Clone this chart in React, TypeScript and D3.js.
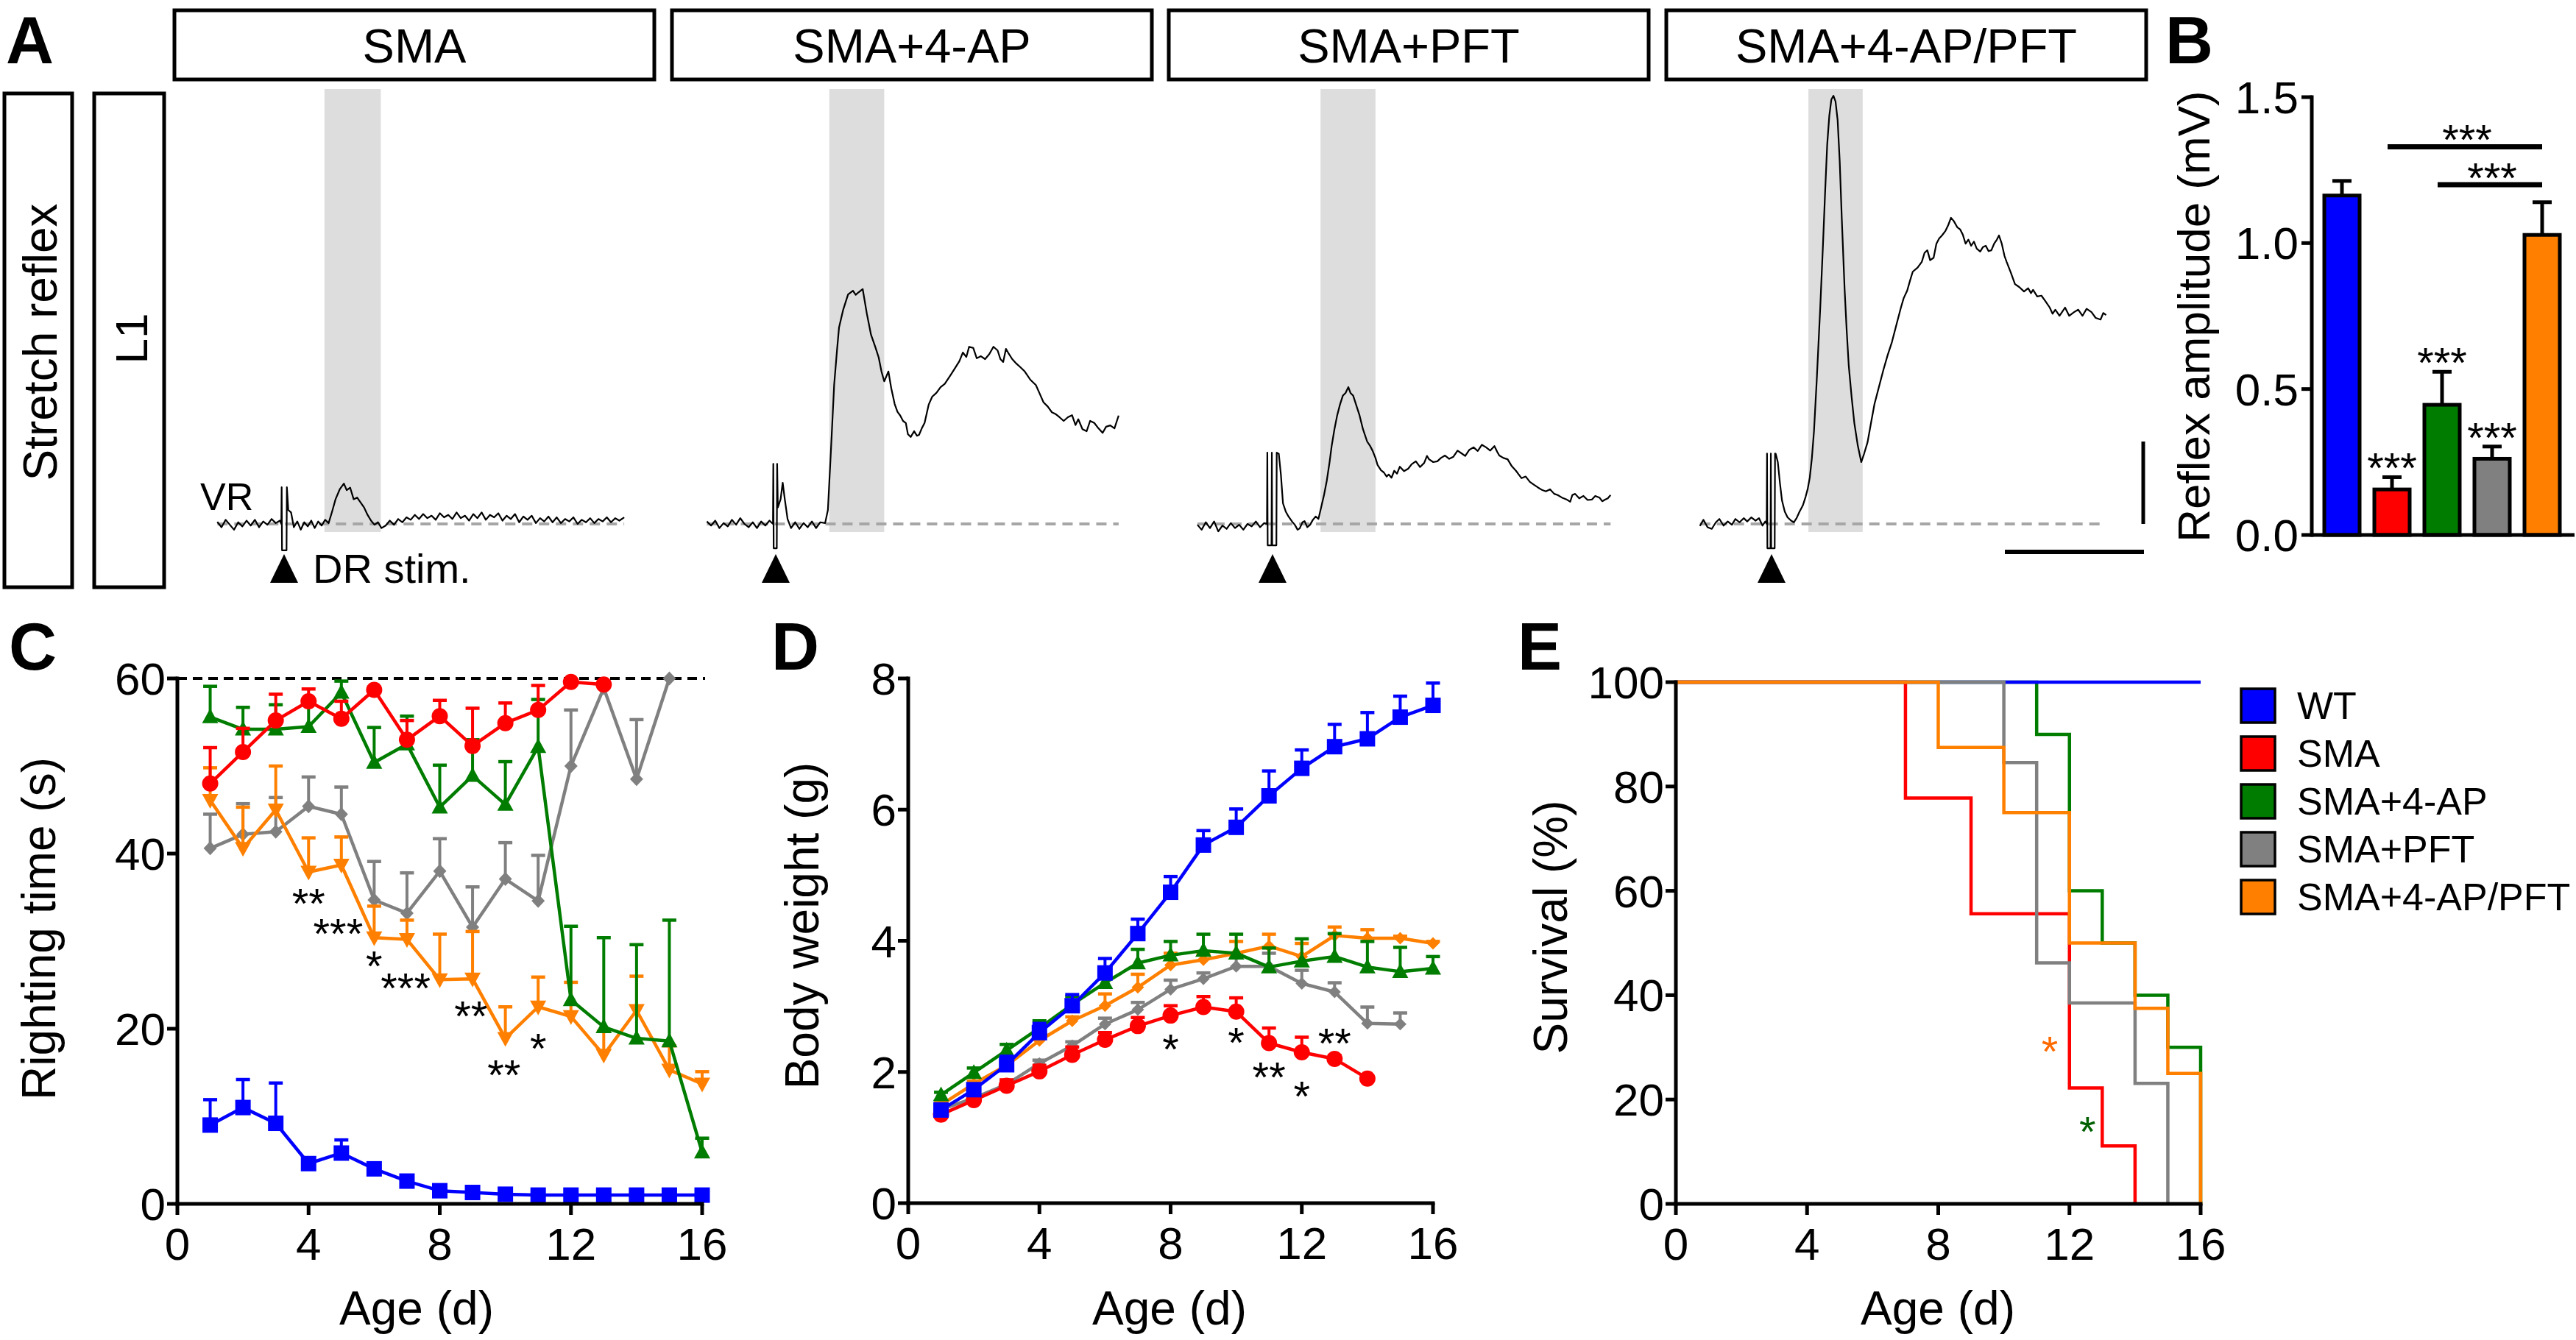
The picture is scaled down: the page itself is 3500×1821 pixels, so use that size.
import React from 'react';
import * as d3 from 'd3';

const FONT = "'Liberation Sans', Arial, Helvetica, sans-serif";

// ---------------- shared categories ----------------
const groups = ['WT', 'SMA', 'SMA+4-AP', 'SMA+PFT', 'SMA+4-AP/PFT'];
const groupColors: Record<string, string> = {
  WT: '#0000ff',
  SMA: '#ff0000',
  'SMA+4-AP': '#007d00',
  'SMA+PFT': '#808080',
  'SMA+4-AP/PFT': '#ff8000',
};

// ---------------- Panel A: example VR traces ([ms from stim, µV]) ----------------
const traceGroups = ['SMA', 'SMA+4-AP', 'SMA+PFT', 'SMA+4-AP/PFT'];
const traceSMA: [number, number][] = [
  [-9.6, 5], [-9, -8], [-8.4, 10], [-7.8, -2], [-7.2, -14], [-6.6, 4], [-6, -6], [-5.4, 8], [-4.8, -4], [-4.2, 10],
  [-3.6, -8], [-3, 6], [-2.4, -2], [-1.8, 12], [-1.2, 2], [-0.6, 8], [-0.4, 0], [-0.35, 89], [-0.3, -64], [0.35, -64],
  [0.4, 89], [0.6, 34], [1.0, 28], [1.4, -8], [1.9, 6], [2.4, -14], [2.9, 4], [3.4, -6], [3.9, 8], [4.4, -10],
  [4.9, 6], [5.4, -4], [5.9, 10], [6.4, 2], [6.9, 30], [7.4, 60], [8.0, 84], [8.6, 98], [9.0, 82], [9.5, 88],
  [10.0, 60], [10.5, 64], [11.0, 52], [11.5, 40], [12.0, 22], [12.5, 8], [13.0, -2], [13.5, 4], [14.0, -10], [14.6, -4],
  [15.2, 8], [15.8, -2], [16.4, 12], [17.0, 4], [17.6, 16], [18.2, 10], [18.8, 22], [19.4, 12], [20.0, 24], [20.6, 14],
  [21.2, 20], [21.8, 10], [22.4, 26], [23.0, 16], [23.6, 22], [24.2, 12], [24.8, 28], [25.4, 14], [26.0, 20], [26.6, 8],
  [27.2, 24], [27.8, 14], [28.4, 28], [29.0, 10], [29.6, 22], [30.2, 16], [30.8, 26], [31.4, 8], [32.0, 20], [32.6, 12],
  [33.2, 24], [33.8, 4], [34.4, 18], [35.0, 10], [35.6, 20], [36.2, 2], [36.8, 14], [37.4, 6], [38.0, 18], [38.6, 4],
  [39.2, 16], [39.8, 2], [40.4, 12], [41.0, 6], [41.6, 16], [42.2, 0], [42.8, 10], [43.4, 4], [44.0, 14], [44.6, 2],
  [45.2, 12], [45.8, 6], [46.4, 16], [47.0, 4], [47.6, 14], [48.2, 8], [48.9, 16],
];
const traceAP: [number, number][] = [
  [-9.9, 6], [-9.3, -4], [-8.7, 8], [-8.1, -10], [-7.5, 2], [-6.9, -6], [-6.3, 10], [-5.7, -2], [-5.1, 14], [-4.5, 0],
  [-3.9, -8], [-3.3, 4], [-2.7, -10], [-2.1, 6], [-1.5, -4], [-0.9, 8], [-0.4, 0], [-0.35, 146], [-0.3, -59], [0.15, -59],
  [0.2, 146], [0.3, 40], [0.7, 60], [1.0, 100], [1.3, 60], [1.7, 12], [2.2, -10], [2.8, 4], [3.4, -12], [4.0, 2],
  [4.6, -8], [5.2, 6], [5.8, -10], [6.4, 4], [7.1, 2], [7.5, 34], [8.0, 200], [8.4, 338], [8.8, 420], [9.1, 477],
  [9.7, 520], [10.4, 557], [11.1, 566], [11.5, 556], [11.9, 562], [12.5, 570], [13.1, 510], [13.7, 459], [14.3, 430], [14.8, 404],
  [15.2, 370], [15.6, 346], [16.2, 370], [16.6, 330], [17.1, 291], [17.5, 272], [17.9, 263], [18.3, 250], [18.7, 245], [19.0, 218],
  [19.4, 211], [19.9, 225], [20.3, 214], [20.6, 216], [21.0, 232], [21.4, 245], [22.0, 290], [22.5, 309], [23.1, 318], [23.7, 332],
  [24.3, 340], [24.9, 355], [25.4, 368], [26.0, 384], [26.4, 395], [26.9, 416], [27.4, 405], [27.8, 430], [28.4, 427], [28.9, 402],
  [29.5, 407], [30.1, 400], [30.7, 412], [31.3, 430], [31.9, 421], [32.3, 400], [32.7, 393], [33.1, 425], [33.4, 416], [34.0, 400],
  [34.6, 389], [35.2, 380], [35.8, 370], [36.6, 350], [37.4, 337], [37.9, 318], [38.5, 295], [39.1, 285], [39.7, 271], [40.3, 266],
  [40.8, 259], [41.4, 250], [42.0, 259], [42.6, 264], [43.1, 240], [43.5, 254], [44.1, 230], [44.7, 225], [45.2, 250], [45.8, 245],
  [46.4, 232], [47.0, 221], [47.5, 236], [48.1, 239], [48.7, 232], [49.3, 263],
];
const tracePFT: [number, number][] = [
  [-10.8, -2], [-10.2, -14], [-9.6, 4], [-9.0, -10], [-8.4, 6], [-7.8, -18], [-7.2, -4], [-6.6, -12], [-6.0, 2], [-5.4, -10],
  [-4.8, -2], [-4.2, -14], [-3.6, 0], [-3.0, -6], [-2.4, 6], [-1.8, -8], [-1.2, 2], [-0.8, 0], [-0.75, 173], [-0.7, -52],
  [-0.15, -52], [-0.1, 173], [-0.05, -52], [0.55, -52], [0.6, 173], [0.9, 170], [1.2, 120], [1.5, 50], [1.9, 30], [2.3, 18],
  [2.8, 6], [3.2, -2], [3.6, -14], [3.9, -11], [4.3, 4], [4.6, 7], [5.0, -8], [5.4, -2], [5.8, 10], [6.2, 18],
  [6.6, 12], [7.0, 41], [7.4, 70], [7.8, 105], [8.2, 150], [8.5, 189], [8.9, 230], [9.3, 264], [9.7, 290], [10.1, 311],
  [10.5, 318], [10.9, 332], [11.2, 318], [11.6, 311], [12.0, 290], [12.5, 264], [13.0, 230], [13.6, 200], [14.0, 190], [14.4, 177],
  [14.8, 160], [15.1, 143], [15.6, 130], [16.0, 125], [16.4, 115], [16.7, 120], [17.1, 112], [17.5, 129], [17.9, 122], [18.3, 139],
  [18.9, 128], [19.5, 134], [20.0, 145], [20.6, 152], [21.2, 138], [21.8, 148], [22.2, 165], [22.5, 157], [23.1, 150], [23.7, 152],
  [24.2, 160], [24.8, 166], [25.4, 158], [26.0, 163], [26.6, 178], [27.2, 171], [27.7, 165], [28.3, 180], [28.9, 186], [29.5, 177],
  [30.1, 192], [30.7, 186], [31.3, 178], [31.9, 189], [32.3, 175], [32.6, 166], [33.2, 160], [33.8, 157], [34.4, 140], [35.0, 129],
  [35.4, 120], [35.8, 111], [36.4, 115], [37.0, 102], [37.6, 95], [38.2, 88], [38.8, 82], [39.3, 79], [39.9, 84], [40.5, 73],
  [41.0, 70], [41.6, 64], [42.2, 60], [42.8, 54], [43.1, 70], [43.5, 73], [44.1, 62], [44.7, 68], [45.3, 58], [45.9, 59],
  [46.4, 68], [47.0, 64], [47.4, 55], [47.8, 59], [48.2, 62], [48.6, 70],
];
const traceCombo: [number, number][] = [
  [-10.3, -5], [-9.8, 10], [-9.2, -8], [-8.6, -12], [-8.0, 4], [-7.5, 12], [-6.9, -4], [-6.3, 6], [-5.7, -2], [-5.2, 12],
  [-4.6, 4], [-4.0, 14], [-3.5, 6], [-2.9, 16], [-2.3, 8], [-1.8, 14], [-1.3, -4], [-0.9, 6], [-0.7, 0], [-0.65, 171],
  [-0.6, -59], [-0.15, -59], [-0.1, 171], [-0.05, -59], [0.45, -59], [0.5, 171], [0.6, 170], [0.9, 150], [1.2, 100], [1.5, 57],
  [1.9, 30], [2.3, 16], [2.8, 8], [3.2, 4], [3.6, 14], [4.0, 29], [4.5, 45], [4.9, 66], [5.2, 85], [5.5, 113],
  [5.8, 160], [6.1, 225], [6.5, 350], [7.0, 525], [7.4, 680], [7.7, 805], [8.0, 920], [8.3, 990], [8.6, 1030], [8.9, 1039],
  [9.2, 1025], [9.5, 980], [9.8, 880], [10.1, 740], [10.5, 571], [10.8, 470], [11.1, 384], [11.5, 310], [11.9, 245], [12.4, 190],
  [12.9, 150], [13.3, 170], [13.8, 198], [14.3, 245], [14.8, 291], [15.4, 330], [16.1, 375], [16.7, 410], [17.3, 441], [17.9, 480],
  [18.6, 525], [19.0, 548], [19.5, 566], [19.9, 590], [20.3, 612], [21.0, 622], [21.6, 636], [22.0, 658], [22.4, 664], [22.8, 640],
  [23.3, 646], [23.7, 680], [24.1, 693], [24.5, 700], [25.0, 711], [25.4, 725], [25.8, 743], [26.2, 735], [26.7, 720], [27.1, 715],
  [27.5, 702], [27.9, 680], [28.3, 690], [28.7, 675], [29.1, 685], [29.5, 668], [30.0, 661], [30.4, 672], [30.8, 675], [31.2, 662],
  [31.6, 664], [32.0, 680], [32.4, 690], [32.7, 700], [33.1, 680], [33.5, 650], [33.8, 636], [34.4, 610], [35.0, 582], [35.6, 575],
  [36.3, 564], [36.9, 572], [37.3, 560], [37.6, 568], [38.2, 552], [38.8, 554], [39.4, 540], [40.0, 525], [40.4, 510], [40.8, 520],
  [41.4, 505], [41.8, 515], [42.2, 525], [42.8, 505], [43.5, 514], [44.1, 520], [44.7, 505], [45.3, 522], [46.0, 514], [46.6, 500],
  [47.3, 496], [47.7, 512], [48.1, 507],
];
const traces = [traceSMA, traceAP, tracePFT, traceCombo];
const reflexWindows: [number, number][] = [[5.8, 13.9], [7.7, 15.6], [6.9, 14.8], [5.3, 13.1]];
const scaleBarMs = 20;
const scaleBarUV = 200;

// ---------------- Panel B: reflex amplitude (mV) ----------------
const reflexMean = [1.163, 0.156, 0.446, 0.261, 1.028];
const reflexSem = [0.05, 0.042, 0.113, 0.042, 0.112];
const reflexStars = ['', '***', '***', '***', ''];
const reflexTicks = [0, 0.5, 1.0, 1.5];
const reflexSig: [string, string, number, string][] = [
  ['SMA', 'SMA+4-AP/PFT', 1.33, '***'],
  ['SMA+4-AP', 'SMA+4-AP/PFT', 1.2, '***'],
];

// ---------------- Panel C: righting time (s) ----------------
const days = [1, 2, 3, 4, 5, 6, 7, 8, 9, 10, 11, 12, 13, 14, 15, 16];
const rightWT = [9.0, 11.0, 9.2, 4.6, 5.8, 4.0, 2.6, 1.5, 1.3, 1.1, 1.0, 1.0, 1.0, 1.0, 1.0, 1.0];
const rightWTErr = [2.9, 3.2, 4.6, 0.6, 1.5, 0.6, 0.5, 0.3, 0.3, 0.2, 0.2, 0.2, 0.2, 0.2, 0.2, 0.2];
const rightSMA = [48.0, 51.6, 55.2, 57.4, 55.4, 58.7, 53.0, 55.7, 52.3, 54.9, 56.4, 59.6, 59.3];
const rightSMAErr = [4.1, 2.7, 3.0, 1.4, 2.0, 0.3, 2.2, 1.8, 4.3, 2.3, 2.8, 0.2, 0.2];
const rightAP = [55.6, 54.2, 54.2, 54.5, 58.4, 50.4, 52.5, 45.3, 48.9, 45.6, 52.2, 23.3, 20.2, 18.9, 18.6, 5.9];
const rightAPErr = [3.5, 2.5, 2.8, 2.9, 1.3, 4.0, 3.2, 4.8, 4.1, 4.9, 5.4, 8.4, 10.2, 10.7, 13.8, 1.6];
const rightPFT = [40.6, 42.2, 42.5, 45.4, 44.5, 34.7, 33.2, 38.0, 31.6, 37.1, 34.6, 50.0, 58.9, 48.5, 60.0];
const rightPFTErr = [3.9, 3.5, 3.9, 3.35, 3.1, 4.4, 4.6, 3.7, 4.6, 4.15, 5.2, 6.4, 0, 6.8, 0];
const rightCombo = [46.1, 40.6, 45.0, 37.9, 38.7, 30.4, 30.2, 25.6, 25.7, 18.9, 22.5, 21.4, 17.0, 22.1, 15.3, 13.7];
const rightComboErr = [3.7, 4.7, 5.0, 3.9, 3.2, 3.6, 2.2, 5.2, 5.4, 3.6, 3.4, 3.9, 2.7, 3.9, 2.75, 1.4];
const rightStars: [number, number, string][] = [
  [4.0, 35.4, '**'], [4.9, 31.9, '***'], [6.0, 28.2, '*'], [6.96, 25.7, '***'],
  [8.95, 22.5, '**'], [9.96, 15.8, '**'], [11.0, 18.8, '*'],
];
const rightTicks = [0, 20, 40, 60];
const rightCutoff = 60;

// ---------------- Panel D: body weight (g) ----------------
const weightWT = [1.42, 1.73, 2.11, 2.60, 3.01, 3.51, 4.11, 4.74, 5.46, 5.73, 6.21, 6.63, 6.96, 7.08, 7.41, 7.59];
const weightWTErr = [0.05, 0.08, 0.13, 0.14, 0.17, 0.22, 0.22, 0.24, 0.22, 0.28, 0.38, 0.28, 0.34, 0.40, 0.32, 0.34];
const weightSMA = [1.35, 1.57, 1.79, 2.01, 2.26, 2.49, 2.70, 2.86, 2.99, 2.92, 2.44, 2.30, 2.20, 1.90];
const weightSMAErr = [0.04, 0.05, 0.09, 0.09, 0.12, 0.11, 0.13, 0.15, 0.16, 0.21, 0.23, 0.23, 0.05, 0.03];
const weightAP = [1.65, 1.99, 2.33, 2.67, 3.03, 3.36, 3.66, 3.78, 3.85, 3.81, 3.60, 3.69, 3.76, 3.60, 3.53, 3.58];
const weightAPErr = [0.04, 0.07, 0.09, 0.11, 0.12, 0.12, 0.21, 0.21, 0.25, 0.29, 0.29, 0.34, 0.35, 0.39, 0.37, 0.18];
const weightPFT = [1.43, 1.60, 1.81, 2.13, 2.40, 2.73, 2.95, 3.26, 3.42, 3.61, 3.61, 3.35, 3.22, 2.74, 2.73];
const weightPFTErr = [0.03, 0.04, 0.05, 0.05, 0.06, 0.09, 0.11, 0.14, 0.09, 0.18, 0.20, 0.2, 0.14, 0.25, 0.17];
const weightCombo = [1.50, 1.82, 2.10, 2.48, 2.78, 3.01, 3.29, 3.63, 3.71, 3.81, 3.92, 3.76, 4.08, 4.04, 4.04, 3.96];
const weightComboErr = [0.03, 0.04, 0.05, 0.05, 0.06, 0.18, 0.20, 0.18, 0.1, 0.18, 0.18, 0.2, 0.13, 0.13, 0.03, 0.03];
const weightStars: [number, number, string][] = [
  [8.0, 2.49, '*'], [10.0, 2.59, '*'], [11.0, 2.06, '**'], [12.0, 1.77, '*'], [13.0, 2.58, '**'],
];
const weightTicks = [0, 2, 4, 6, 8];

// ---------------- Panel E: survival (%) ----------------
const survWTDays = [0, 16];
const survWT = [100, 100];
const survSMADays = [0, 7, 9, 12, 13, 14];
const survSMA = [100, 77.8, 55.6, 22.2, 11.1, 0];
const survAPDays = [0, 11, 12, 13, 14, 15, 16];
const survAP = [100, 90, 60, 50, 40, 30, 0];
const survPFTDays = [0, 10, 11, 12, 14, 15];
const survPFT = [100, 84.6, 46.2, 38.5, 23.1, 0];
const survComboDays = [0, 8, 10, 12, 14, 15, 16];
const survCombo = [100, 87.5, 75, 50, 37.5, 25, 0];
const survStars: [number, number, string, string][] = [
  [11.4, 31, '*', '#ff6a00'],
  [12.55, 15.6, '*', '#006000'],
];
const survTicks = [0, 20, 40, 60, 80, 100];
const ageTicks = [0, 4, 8, 12, 16];

// ---------------- helpers ----------------
type Shape = 'square' | 'circle' | 'triUp' | 'triDown' | 'diamond' | 'smallDiamond';
const TICK_FS = 62;
const STAR_FS = 58;
const STAR_DY = 33; // baseline offset below the asterisk's visual centre

function Marker({ shape, x, y, color }: { shape: Shape; x: number; y: number; color: string }) {
  switch (shape) {
    case 'square':
      return <rect x={x - 10.5} y={y - 10.5} width={21} height={21} fill={color} />;
    case 'circle':
      return <circle cx={x} cy={y} r={11} fill={color} />;
    case 'triUp':
      return <path d={`M${x},${y - 11.5} L${x + 11},${y + 8.5} L${x - 11},${y + 8.5} Z`} fill={color} />;
    case 'triDown':
      return <path d={`M${x},${y + 11.5} L${x + 11},${y - 8.5} L${x - 11},${y - 8.5} Z`} fill={color} />;
    case 'diamond':
      return <path d={`M${x},${y - 9.5} L${x + 9},${y} L${x},${y + 9.5} L${x - 9},${y} Z`} fill={color} />;
    default:
      return <path d={`M${x},${y - 8.5} L${x + 8.5},${y} L${x},${y + 8.5} L${x - 8.5},${y} Z`} fill={color} />;
  }
}

interface Series { group: string; vals: number[]; err: number[]; shape: Shape }

function LinePanel({ x, y, series }: { x: d3.ScaleLinear<number, number>; y: d3.ScaleLinear<number, number>; series: Series[] }) {
  return (
    <g>
      {series.map((s) => {
        const color = groupColors[s.group];
        const pts: [number, number][] = s.vals.map((v, i) => [days[i], v]);
        const line = d3.line<[number, number]>().x((d) => x(d[0])).y((d) => y(d[1]));
        return (
          <g key={s.group}>
            {pts.map(([d, v], i) =>
              s.err[i] > 0.001 ? (
                <g key={'e' + i}>
                  <line x1={x(d)} x2={x(d)} y1={y(v)} y2={y(v + s.err[i])} stroke={color} strokeWidth={4} />
                  <line x1={x(d) - 9.5} x2={x(d) + 9.5} y1={y(v + s.err[i])} y2={y(v + s.err[i])} stroke={color} strokeWidth={4.5} />
                </g>
              ) : null
            )}
            <path d={line(pts) || ''} fill="none" stroke={color} strokeWidth={4.5} strokeLinejoin="round" />
            {pts.map(([d, v], i) => (
              <Marker key={'m' + i} shape={s.shape} x={x(d)} y={y(v)} color={color} />
            ))}
          </g>
        );
      })}
    </g>
  );
}

// All significance stars of one panel go in one text element (they sit close together, as in the original)
function StarGroup({ items, fill }: { items: { x: number; y: number; s: string; c?: string }[]; fill?: string }) {
  return (
    <text fontSize={STAR_FS} textAnchor="middle" fontFamily={FONT} fill={fill || '#000'}>
      {items.map((it, i) => (
        <tspan key={i} x={it.x} y={it.y + STAR_DY} fill={it.c || fill || '#000'}>{it.s}</tspan>
      ))}
    </text>
  );
}

function Axes({ x, y, xTicks, yTicks, xTitle, yTitle, xTitleX, yTitleX, yTitleY }: any) {
  const [x0, x1] = x.range();
  const [y0, y1] = y.range();
  return (
    <g fontFamily={FONT}>
      <line x1={x0} x2={x1} y1={y0} y2={y0} stroke="#000" strokeWidth={5} strokeLinecap="square" />
      <line x1={x0} x2={x0} y1={y0} y2={y1} stroke="#000" strokeWidth={5} strokeLinecap="square" />
      {xTicks.map((t: number) => (
        <g key={'x' + t}>
          <line x1={x(t)} x2={x(t)} y1={y0} y2={y0 + 15} stroke="#000" strokeWidth={5} />
          <text x={x(t)} y={y0 + 76} fontSize={TICK_FS} textAnchor="middle">{t}</text>
        </g>
      ))}
      {yTicks.map((t: number) => (
        <g key={'y' + t}>
          <line x1={x0 - 14} x2={x0} y1={y(t)} y2={y(t)} stroke="#000" strokeWidth={5} />
          <text x={x0 - 16} y={y(t) + 22} fontSize={TICK_FS} textAnchor="end">{t}</text>
        </g>
      ))}
      <text x={xTitleX} y={1800} fontSize={64} textAnchor="middle">{xTitle}</text>
      <text transform={`translate(${yTitleX},${yTitleY}) rotate(-90)`} fontSize={64} textAnchor="middle">{yTitle}</text>
    </g>
  );
}

function PanelLetter({ x, y, t }: { x: number; y: number; t: string }) {
  return <text x={x} y={y} fontSize={90} fontWeight="bold" fontFamily={FONT}>{t}</text>;
}

// ---------------- main ----------------
export default function App() {
  // Panel A layout
  const boxLeft = [237, 913, 1588, 2264];
  const stimX = [386, 1054, 1729, 2407];
  const yTr = d3.scaleLinear().domain([0, scaleBarUV]).range([712, 600]);
  const msLen = d3.scaleLinear().domain([0, scaleBarMs]).range([0, 189]);

  // Panel B
  const xB = d3.scalePoint<string>().domain(groups).range([3182, 3454]);
  const yB = d3.scaleLinear().domain([0, 1.5]).range([727, 132]);

  // Panels C, D, E
  const xC = d3.scaleLinear().domain([0, 16]).range([241, 954]);
  const yC = d3.scaleLinear().domain([0, 60]).range([1636, 922]);
  const xD = d3.scaleLinear().domain([0, 16]).range([1234, 1947]);
  const yD = d3.scaleLinear().domain([0, 8]).range([1635, 922]);
  const xE = d3.scaleLinear().domain([0, 16]).range([2277, 2990]);
  const yE = d3.scaleLinear().domain([0, 100]).range([1636, 927]);

  const seriesC: Series[] = [
    { group: 'SMA+PFT', vals: rightPFT, err: rightPFTErr, shape: 'diamond' },
    { group: 'SMA+4-AP/PFT', vals: rightCombo, err: rightComboErr, shape: 'triDown' },
    { group: 'SMA+4-AP', vals: rightAP, err: rightAPErr, shape: 'triUp' },
    { group: 'SMA', vals: rightSMA, err: rightSMAErr, shape: 'circle' },
    { group: 'WT', vals: rightWT, err: rightWTErr, shape: 'square' },
  ];
  const seriesD: Series[] = [
    { group: 'SMA+PFT', vals: weightPFT, err: weightPFTErr, shape: 'smallDiamond' },
    { group: 'SMA+4-AP/PFT', vals: weightCombo, err: weightComboErr, shape: 'smallDiamond' },
    { group: 'SMA+4-AP', vals: weightAP, err: weightAPErr, shape: 'triUp' },
    { group: 'SMA', vals: weightSMA, err: weightSMAErr, shape: 'circle' },
    { group: 'WT', vals: weightWT, err: weightWTErr, shape: 'square' },
  ];
  const survSeries: [string, number[], number[]][] = [
    ['SMA+4-AP', survAPDays, survAP],
    ['WT', survWTDays, survWT],
    ['SMA', survSMADays, survSMA],
    ['SMA+PFT', survPFTDays, survPFT],
    ['SMA+4-AP/PFT', survComboDays, survCombo],
  ];
  const stepLine = d3
    .line<[number, number]>()
    .x((d) => xE(d[0]))
    .y((d) => yE(d[1]))
    .curve(d3.curveStepAfter);

  const barStarItems = groups
    .map((g, i) => ({ x: xB(g) as number, y: yB(reflexMean[i] + reflexSem[i]) - 25, s: reflexStars[i] }))
    .filter((d) => d.s);
  const sigStarItems = reflexSig.map(([a, b, lvl, s]) => ({
    x: ((xB(a) as number) + (xB(b) as number)) / 2,
    y: yB(lvl) - 22,
    s,
  }));

  return (
    <svg
      width={3500}
      height={1821}
      viewBox="0 0 3500 1821"
      style={{ position: 'absolute', left: 0, top: 0, background: '#fff' }}
      fontFamily={FONT}
    >
      <rect x={0} y={0} width={3500} height={1821} fill="#fff" />

      {/* ---------- Panel A ---------- */}
      <PanelLetter x={8} y={86} t="A" />
      <rect x={6} y={127} width={92} height={671} fill="none" stroke="#000" strokeWidth={5} />
      <text transform="translate(77,465) rotate(-90)" fontSize={64} textAnchor="middle">Stretch reflex</text>
      <rect x={128} y={127} width={95} height={671} fill="none" stroke="#000" strokeWidth={5} />
      <text transform="translate(200,460) rotate(-90)" fontSize={62} textAnchor="middle">L1</text>
      {traceGroups.map((g, i) => (
        <g key={g}>
          <rect x={boxLeft[i]} y={14} width={652} height={94} fill="none" stroke="#000" strokeWidth={5} />
          <text x={boxLeft[i] + 326} y={85} fontSize={65} textAnchor="middle">{g}</text>
        </g>
      ))}
      {traces.map((tr, i) => {
        const xTr = d3.scaleLinear().domain([0, scaleBarMs]).range([stimX[i], stimX[i] + 189]);
        const line = d3.line<[number, number]>().x((d) => xTr(d[0])).y((d) => yTr(d[1]));
        const [w0, w1] = reflexWindows[i];
        const sx = xTr(0);
        return (
          <g key={'tr' + i}>
            <rect x={xTr(w0)} y={121} width={xTr(w1) - xTr(w0)} height={602} fill="#dddddd" />
            <line
              x1={xTr(tr[0][0])}
              x2={xTr(tr[tr.length - 1][0])}
              y1={yTr(0)}
              y2={yTr(0)}
              stroke="#a6a6a6"
              strokeWidth={4}
              strokeDasharray="14 9"
            />
            <path d={line(tr) || ''} fill="none" stroke="#000" strokeWidth={2.2} strokeLinejoin="round" />
            <path d={`M${sx},${753} L${sx + 19},${792} L${sx - 19},${792} Z`} fill="#000" />
          </g>
        );
      })}
      <text x={272} y={693} fontSize={52}>VR</text>
      <text x={425} y={792} fontSize={56}>DR stim.</text>
      {/* scale bars */}
      <line x1={2912} x2={2912} y1={yTr(0)} y2={yTr(scaleBarUV)} stroke="#000" strokeWidth={5} />
      <line x1={2913 - msLen(scaleBarMs)} x2={2913} y1={750} y2={750} stroke="#000" strokeWidth={6} />

      {/* ---------- Panel B ---------- */}
      <PanelLetter x={2942} y={86} t="B" />
      {groups.map((g, i) => {
        const cx = xB(g) as number;
        const top = yB(reflexMean[i]);
        const errTop = yB(reflexMean[i] + reflexSem[i]);
        return (
          <g key={'bar' + g}>
            <line x1={cx} x2={cx} y1={top} y2={errTop} stroke="#000" strokeWidth={5} />
            <line x1={cx - 13} x2={cx + 13} y1={errTop} y2={errTop} stroke="#000" strokeWidth={5} />
            <rect x={cx - 24} y={top} width={48} height={yB(0) - top} fill={groupColors[g]} stroke="#000" strokeWidth={5} />
          </g>
        );
      })}
      <StarGroup items={barStarItems} />
      {reflexSig.map(([a, b, lvl]) => (
        <line key={'sig' + a} x1={(xB(a) as number) - 6} x2={xB(b) as number} y1={yB(lvl)} y2={yB(lvl)} stroke="#000" strokeWidth={7} />
      ))}
      <StarGroup items={sigStarItems} />
      <line x1={3141} x2={3141} y1={yB(0)} y2={yB(1.5)} stroke="#000" strokeWidth={5} strokeLinecap="square" />
      <line x1={3141} x2={3498} y1={yB(0)} y2={yB(0)} stroke="#000" strokeWidth={5} />
      {reflexTicks.map((t) => (
        <g key={'bt' + t}>
          <line x1={3127} x2={3141} y1={yB(t)} y2={yB(t)} stroke="#000" strokeWidth={5} />
          <text x={3123} y={yB(t) + 22} fontSize={TICK_FS} textAnchor="end">{t.toFixed(1)}</text>
        </g>
      ))}
      <text transform="translate(3002,430) rotate(-90)" fontSize={62} textAnchor="middle">Reflex amplitude (mV)</text>

      {/* ---------- Panel C ---------- */}
      <PanelLetter x={12} y={910} t="C" />
      <line x1={xC(0)} x2={xC(16) + 4} y1={yC(rightCutoff)} y2={yC(rightCutoff)} stroke="#000" strokeWidth={4} strokeDasharray="13 8" />
      <LinePanel x={xC} y={yC} series={seriesC} />
      <StarGroup items={rightStars.map(([d, v, s]) => ({ x: xC(d), y: yC(v), s }))} />
      <Axes x={xC} y={yC} xTicks={ageTicks} yTicks={rightTicks} xTitle="Age (d)" xTitleX={566} yTitle="Righting time (s)" yTitleX={75} yTitleY={1262} />

      {/* ---------- Panel D ---------- */}
      <PanelLetter x={1048} y={910} t="D" />
      <LinePanel x={xD} y={yD} series={seriesD} />
      <StarGroup items={weightStars.map(([d, v, s]) => ({ x: xD(d), y: yD(v), s }))} />
      <Axes x={xD} y={yD} xTicks={ageTicks} yTicks={weightTicks} xTitle="Age (d)" xTitleX={1589} yTitle="Body weight (g)" yTitleX={1112} yTitleY={1258} />

      {/* ---------- Panel E ---------- */}
      <PanelLetter x={2062} y={910} t="E" />
      {survSeries.map(([g, ds, vs]) => (
        <path
          key={'sv' + g}
          d={stepLine(ds.map((d, i) => [d, vs[i]] as [number, number])) || ''}
          fill="none"
          stroke={groupColors[g]}
          strokeWidth={4.5}
        />
      ))}
      <StarGroup items={survStars.map(([d, v, s, c]) => ({ x: xE(d), y: yE(v), s, c }))} />
      <Axes x={xE} y={yE} xTicks={ageTicks} yTicks={survTicks} xTitle="Age (d)" xTitleX={2633} yTitle="Survival (%)" yTitleX={2129} yTitleY={1260} />
      {groups.map((g, i) => (
        <g key={'lg' + g}>
          <rect x={3045} y={936 + i * 65} width={46} height={46} fill={groupColors[g]} stroke="#000" strokeWidth={3.5} />
          <text x={3121} y={977 + i * 65} fontSize={52}>{g}</text>
        </g>
      ))}
    </svg>
  );
}
